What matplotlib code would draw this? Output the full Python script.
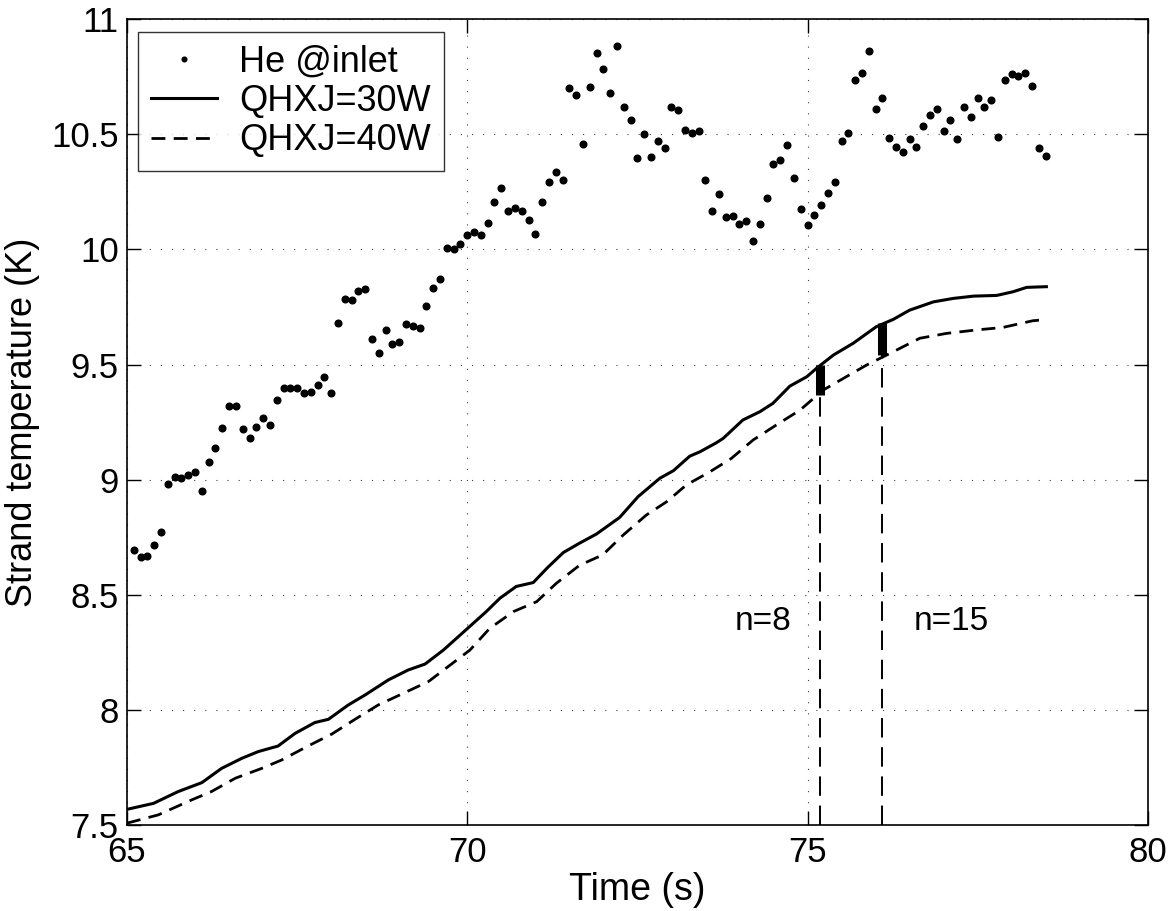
import matplotlib
matplotlib.use("Agg")
import matplotlib.pyplot as plt

plt.rcParams['font.family'] = ['Liberation Sans', 'DejaVu Sans']

# He temperature at inlet (dots)
t_he = [65.1, 65.2, 65.3, 65.4, 65.5, 65.6, 65.7, 65.8, 65.9, 66.0,
        66.1, 66.2, 66.3, 66.4, 66.5, 66.6, 66.7, 66.8, 66.9, 67.0,
        67.1, 67.2, 67.3, 67.4, 67.5, 67.6, 67.7, 67.8, 67.9, 68.0,
        68.1, 68.2, 68.3, 68.4, 68.5, 68.6, 68.7, 68.8, 68.9, 69.0,
        69.1, 69.2, 69.3, 69.4, 69.5, 69.6, 69.7, 69.8, 69.9, 70.0,
        70.1, 70.2, 70.3, 70.4, 70.5, 70.6, 70.7, 70.8, 70.9, 71.0,
        71.1, 71.2, 71.3, 71.4, 71.5, 71.6, 71.7, 71.8, 71.9, 72.0,
        72.1, 72.2, 72.3, 72.4, 72.5, 72.6, 72.7, 72.8, 72.9, 73.0,
        73.1, 73.2, 73.3, 73.4, 73.5, 73.6, 73.7, 73.8, 73.9, 74.0,
        74.1, 74.2, 74.3, 74.4, 74.5, 74.6, 74.7, 74.8, 74.9, 75.0,
        75.1, 75.2, 75.3, 75.4, 75.5, 75.6, 75.7, 75.8, 75.9, 76.0,
        76.1, 76.2, 76.3, 76.4, 76.5, 76.6, 76.7, 76.8, 76.9, 77.0,
        77.1, 77.2, 77.3, 77.4, 77.5, 77.6, 77.7, 77.8, 77.9, 78.0,
        78.1, 78.2, 78.3, 78.4, 78.5]
T_he = [8.694, 8.665, 8.668, 8.716, 8.774, 8.979, 9.013, 9.007, 9.019, 9.034,
        8.949, 9.078, 9.136, 9.225, 9.321, 9.321, 9.220, 9.182, 9.228, 9.267,
        9.239, 9.347, 9.399, 9.399, 9.399, 9.377, 9.380, 9.409, 9.445, 9.377,
        9.679, 9.783, 9.781, 9.819, 9.829, 9.612, 9.551, 9.651, 9.587, 9.596,
        9.677, 9.667, 9.660, 9.754, 9.832, 9.871, 10.006, 10.003, 10.022, 10.061,
        10.077, 10.062, 10.114, 10.204, 10.268, 10.168, 10.179, 10.168, 10.129, 10.066,
        10.207, 10.291, 10.337, 10.300, 10.703, 10.671, 10.456, 10.706, 10.851, 10.784,
        10.680, 10.884, 10.617, 10.560, 10.398, 10.502, 10.402, 10.472, 10.440, 10.617,
        10.605, 10.519, 10.505, 10.514, 10.302, 10.168, 10.240, 10.139, 10.145, 10.111,
        10.122, 10.036, 10.111, 10.221, 10.372, 10.388, 10.454, 10.310, 10.175, 10.104,
        10.148, 10.192, 10.246, 10.292, 10.472, 10.507, 10.734, 10.766, 10.861, 10.608,
        10.658, 10.483, 10.446, 10.421, 10.478, 10.444, 10.535, 10.583, 10.609, 10.512,
        10.563, 10.479, 10.618, 10.574, 10.658, 10.618, 10.647, 10.488, 10.734, 10.760,
        10.751, 10.767, 10.710, 10.439, 10.405]

# strand temperature, QHXJ=30W
t_30 = [65.00, 65.39, 65.75, 66.10, 66.39, 66.69, 66.93, 67.22, 67.47, 67.76,
        67.96, 68.25, 68.50, 68.84, 69.13, 69.38, 69.65, 69.99, 70.28, 70.48,
        70.72, 70.97, 71.17, 71.41, 71.65, 71.90, 72.24, 72.51, 72.83, 73.03,
        73.27, 73.42, 73.66, 73.76, 74.05, 74.30, 74.49, 74.74, 74.99, 75.13,
        75.38, 75.67, 76.01, 76.26, 76.50, 76.85, 77.14, 77.44, 77.78, 78.02,
        78.22, 78.51]
T_30 = [7.568, 7.594, 7.645, 7.684, 7.746, 7.790, 7.819, 7.843, 7.898, 7.945,
        7.959, 8.021, 8.065, 8.130, 8.173, 8.199, 8.260, 8.350, 8.427, 8.485,
        8.536, 8.553, 8.615, 8.683, 8.724, 8.764, 8.836, 8.926, 9.006, 9.039,
        9.102, 9.121, 9.160, 9.179, 9.259, 9.295, 9.331, 9.406, 9.447, 9.483,
        9.541, 9.592, 9.664, 9.696, 9.736, 9.772, 9.787, 9.797, 9.800, 9.816,
        9.835, 9.838]

# strand temperature, QHXJ=40W
t_40 = [65.00, 65.46, 65.95, 66.24, 66.59, 66.98, 67.27, 67.66, 68.01, 68.35,
        68.69, 69.06, 69.43, 69.75, 70.04, 70.33, 70.68, 71.02, 71.31, 71.65,
        71.99, 72.29, 72.63, 72.93, 73.22, 73.56, 73.88, 74.20, 74.54, 74.89,
        75.23, 75.57, 75.87, 76.21, 76.65, 77.04, 77.48, 77.87, 78.31, 78.50]
T_40 = [7.508, 7.544, 7.609, 7.645, 7.703, 7.746, 7.782, 7.843, 7.895, 7.959,
        8.021, 8.072, 8.123, 8.195, 8.260, 8.354, 8.427, 8.470, 8.550, 8.628,
        8.673, 8.759, 8.846, 8.904, 8.977, 9.033, 9.092, 9.172, 9.237, 9.302,
        9.389, 9.447, 9.498, 9.548, 9.614, 9.635, 9.650, 9.661, 9.690, 9.695]

# markers n=8 / n=15
n_labels = ["n=8", "n=15"]
n_time = [75.19, 76.10]
n_low = [9.367, 9.541]
n_high = [9.498, 9.679]

fig = plt.figure(figsize=(11.76, 9.11), dpi=100)
ax = fig.add_axes([0.108, 0.0944, 0.868, 0.8846])

ax.plot(t_he, T_he, ls='none', marker='o', ms=4.8, color='k', label='He @inlet')
ax.plot(t_30, T_30, '-', color='k', lw=2.2, label='QHXJ=30W')
ax.plot(t_40, T_40, color='k', lw=2, ls=(0, (5, 3)), label='QHXJ=40W')

ax.vlines(n_time, 7.5, n_low, colors='k', lw=1.4, linestyles=[(0, (10, 5))])
ax.vlines(n_time, n_low, n_high, colors='k', lw=6.5)

ax.text(73.93, 8.385, n_labels[0], fontsize=24, va='center', ha='left')
ax.text(76.56, 8.385, n_labels[1], fontsize=24, va='center', ha='left')

ax.set_xlim(65, 80)
ax.set_ylim(7.5, 11)
ax.set_xticks([65, 70, 75, 80])
ax.set_yticks([7.5, 8, 8.5, 9, 9.5, 10, 10.5, 11])
ax.set_yticklabels(['7.5', '8', '8.5', '9', '9.5', '10', '10.5', '11'])
ax.tick_params(direction='in', length=10, width=1, labelsize=25,
               top=True, right=True)
ax.tick_params(axis='x', pad=8)
ax.tick_params(axis='y', pad=6)
ax.grid(True, color='0.25', lw=0.8, ls=(0, (1, 9)))
for s in ax.spines.values():
    s.set_linewidth(1.2)

ax.set_xlabel('Time (s)', fontsize=27, labelpad=2)
ax.set_ylabel('Strand temperature (K)', fontsize=26, labelpad=8)

leg = ax.legend(loc='upper left', bbox_to_anchor=(0.0108, 0.984), borderaxespad=0,
                fontsize=26, frameon=True, fancybox=False, edgecolor='k',
                handlelength=1.85, handletextpad=0.6, labelspacing=0.12,
                borderpad=0.35, markerscale=0.7)
leg.get_frame().set_linewidth(1.0)

fig.savefig('out.png', dpi=100)
